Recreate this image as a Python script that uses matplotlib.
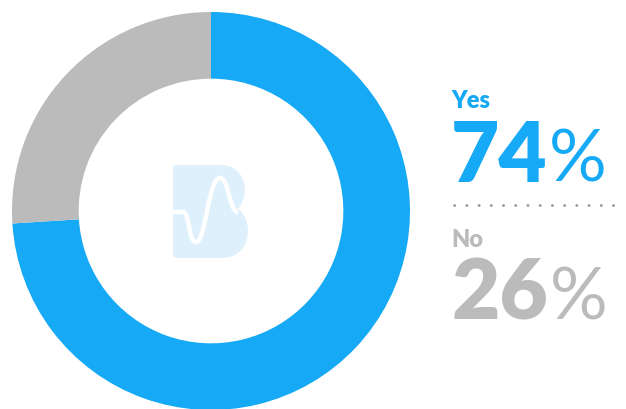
import matplotlib.pyplot as plt
from matplotlib.path import Path
from matplotlib.patches import PathPatch

labels = ['Yes', 'No']
values = [74, 26]
colors = ['#15A9F6', '#BBBBBB']

W, H = 626, 409
fig = plt.figure(figsize=(W / 100, H / 100), dpi=100)

# donut: centre (211, 211), outer radius 199 px
cx, cy, r = 211, 211, 199
ax = fig.add_axes([(cx - r) / W, (H - cy - r) / H, 2 * r / W, 2 * r / H])
ax.pie(values, colors=colors, startangle=90, counterclock=False,
       radius=1, wedgeprops=dict(width=0.335, linewidth=0))
ax.set_xlim(-1, 1)
ax.set_ylim(-1, 1)
ax.set_aspect('equal')
ax.axis('off')

# logo in the hole (pixel coords)
lx = fig.add_axes([0, 0, 1, 1], facecolor='none')
lx.set_xlim(0, W)
lx.set_ylim(H, 0)
lx.axis('off')
M, L, C = Path.MOVETO, Path.LINETO, Path.CURVE4
verts = [(179, 165), (220, 165),
         (247, 165), (250, 195), (238, 209),
         (254, 220), (252, 258), (222, 258),
         (179, 258),
         (173, 258), (173, 256), (173, 252),
         (173, 171),
         (173, 165), (175, 165), (179, 165)]
codes = [M, L, C, C, C, C, C, C, L, C, C, C, L, C, C, C]
lx.add_patch(PathPatch(Path(verts, codes), facecolor='#DDF0FC', edgecolor='none'))
cverts = [(173, 212), (183, 212),
          (190, 212), (188, 242), (196, 242),
          (206, 242), (208, 178), (220, 178),
          (229, 178), (229, 212), (238, 212)]
ccodes = [M, L, C, C, C, C, C, C, C, C, C]
lx.add_patch(PathPatch(Path(cverts, ccodes), facecolor='none', edgecolor='white', lw=3.2,
                       capstyle='butt'))

# labels on the right
fam = 'Lato'
lx.text(451, 108, labels[0], color=colors[0], fontsize=17, fontweight='heavy', family=fam, va='baseline')
lx.text(451, 182, f'{values[0]}', color=colors[0], fontsize=60, fontweight='heavy', family=fam, va='baseline')
lx.text(549, 182, '%', color=colors[0], fontsize=52, fontweight='normal', family=fam, va='baseline')
lx.text(451, 247, labels[1], color=colors[1], fontsize=17, fontweight='heavy', family=fam, va='baseline')
lx.text(451, 320, f'{values[1]}', color=colors[1], fontsize=60, fontweight='heavy', family=fam, va='baseline')
lx.text(550, 320, '%', color=colors[1], fontsize=52, fontweight='normal', family=fam, va='baseline')
lx.plot([454, 620], [205, 205], color='#999999', lw=2, linestyle=(0, (0.1, 4.3)),
        dash_capstyle='round')

fig.savefig('out.png', dpi=100)
